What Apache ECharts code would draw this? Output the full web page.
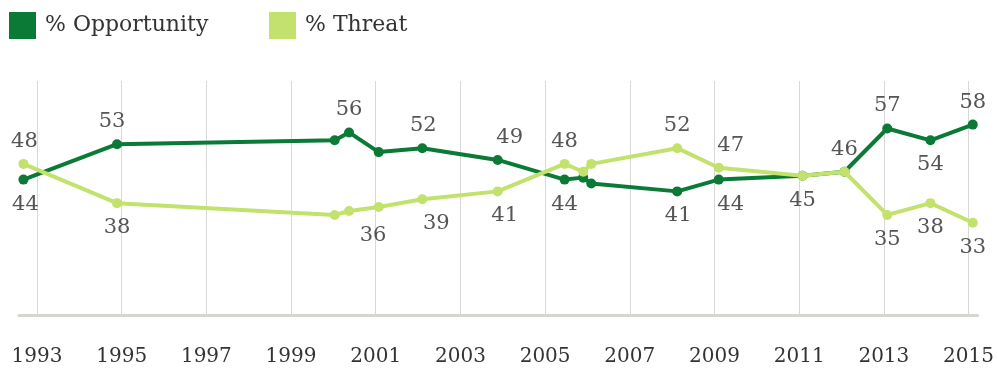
<!DOCTYPE html>
<html>
<head>
<meta charset="utf-8">
<script src="https://cdn.jsdelivr.net/npm/echarts@6/dist/echarts.min.js"></script>
<style>
html,body{margin:0;padding:0;background:#fff;}
#c{width:997px;height:368px;}
</style>
</head>
<body>
<div id="c"></div>
<script>
// Survey dates (fractional years)
var dates = [1992.68, 1994.89, 2000.03, 2000.37, 2001.07, 2002.1, 2003.88, 2005.46, 2005.9, 2006.09, 2008.12, 2009.1, 2011.08, 2012.07, 2013.08, 2014.1, 2015.1];
// % Opportunity
var opportunity = [44, 53, 54, 56, 51, 52, 49, 44, 44.5, 43, 41, 44, 45, 46, 57, 54, 58];
// % Threat
var threat = [48, 38, 35, 36, 37, 39, 41, 48, 46, 48, 52, 47, 45, 46, 35, 38, 33];
// Tick labels
var tickYears = [1993, 1995, 1997, 1999, 2001, 2003, 2005, 2007, 2009, 2011, 2013, 2015];

// label placement (style only)
var oppPos = ['bottom','top',null,'top',null,'top','top','bottom',null,null,'bottom','bottom','bottom','top','top','bottom','top'];
var oppDx  = [2,-5,0,0,0,1,12,0,0,0,1,12,0,0,0,0,0];
var thrPos = ['top','bottom',null,'bottom',null,'bottom','bottom','top',null,null,'top','top',null,null,'bottom','bottom','bottom'];
var thrDx  = [1,0,0,24,0,14,7,0,0,0,0,12,0,0,0,0,0];

var FONT = 'DejaVu Serif';
var DARK = '#0b7a37';
var LIGHT = '#c3e26d';

function build(vals, pos, dx) {
  return dates.map(function (d, i) {
    var p = pos[i];
    return {
      value: [d, vals[i]],
      label: p ? {
        show: true,
        position: p,
        distance: p === 'top' ? 7 : 9,
        offset: [dx[i], 0],
        formatter: String(vals[i])
      } : { show: false }
    };
  });
}

var chart = echarts.init(document.getElementById('c'), null, {renderer: 'canvas'});
chart.setOption({
  animation: false,
  backgroundColor: '#fff',
  legend: [
    {
      left: 9, top: 12, padding: 0, itemWidth: 27, itemHeight: 27, itemGap: 10, icon: 'rect',
      data: ['% Opportunity'],
      textStyle: {fontFamily: FONT, fontSize: 22, color: '#333', padding: [0,0,0,4]}
    },
    {
      left: 269, top: 12, padding: 0, itemWidth: 27, itemHeight: 27, itemGap: 10, icon: 'rect',
      data: ['% Threat'],
      textStyle: {fontFamily: FONT, fontSize: 22, color: '#333', padding: [0,0,0,4]}
    }
  ],
  grid: {left: 19, right: 19, top: 81, bottom: 52.5, containLabel: false},
  xAxis: {
    type: 'value',
    min: 1992.575,
    max: 2015.214,
    axisLine: {show: true, lineStyle: {color: '#d6d6cf', width: 3}},
    axisTick: {show: false, customValues: tickYears},
    axisLabel: {
      customValues: tickYears,
      fontFamily: FONT, fontSize: 20, color: '#333', margin: 31,
      formatter: function (v) { return String(Math.round(v)); }
    },
    splitLine: {show: true, lineStyle: {color: '#d8d8d8', width: 1}}
  },
  yAxis: {
    type: 'value', min: 9.4, max: 69.1, show: false,
    splitLine: {show: false}
  },
  series: [
    {
      name: '% Opportunity', type: 'line', z: 2,
      symbol: 'circle', symbolSize: 10,
      itemStyle: {color: DARK},
      lineStyle: {color: DARK, width: 4},
      label: {fontFamily: FONT, fontSize: 21, color: '#555'},
      data: build(opportunity, oppPos, oppDx)
    },
    {
      name: '% Threat', type: 'line', z: 3,
      symbol: 'circle', symbolSize: 10,
      itemStyle: {color: LIGHT},
      lineStyle: {color: LIGHT, width: 4},
      label: {fontFamily: FONT, fontSize: 21, color: '#555'},
      data: build(threat, thrPos, thrDx)
    }
  ]
});
</script>
</body>
</html>
